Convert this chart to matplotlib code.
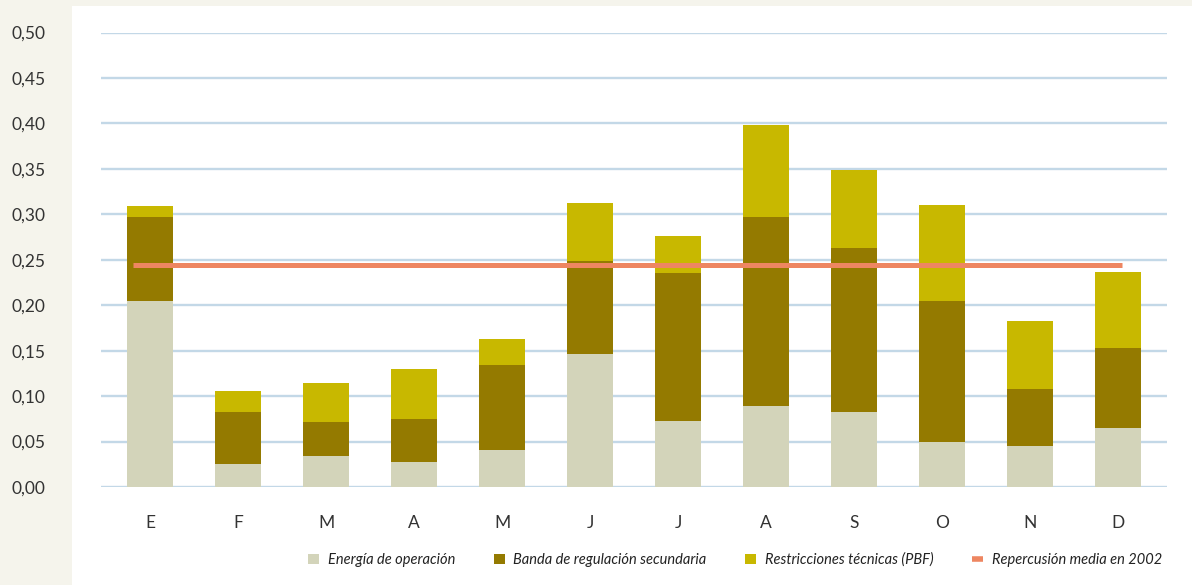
import matplotlib
matplotlib.use("Agg")
import matplotlib.pyplot as plt
from matplotlib.patches import Rectangle
import numpy as np

plt.rcParams['font.family'] = ['Lato', 'DejaVu Sans']

months = ["E", "F", "M", "A", "M", "J", "J", "A", "S", "O", "N", "D"]
energia = [0.205, 0.025, 0.034, 0.028, 0.041, 0.146, 0.073, 0.089, 0.082, 0.050, 0.045, 0.065]
banda = [0.092, 0.057, 0.0375, 0.047, 0.093, 0.103, 0.162, 0.208, 0.181, 0.155, 0.063, 0.088]
restricciones = [0.012, 0.024, 0.043, 0.055, 0.029, 0.063, 0.041, 0.101, 0.086, 0.105, 0.075, 0.084]
media_2002 = 0.244
labels = ["Energía de operación", "Banda de regulación secundaria",
          "Restricciones técnicas (PBF)", "Repercusión media en 2002"]

c_energia = "#d3d4ba"
c_banda = "#947a00"
c_restr = "#c8b800"
c_media = "#ee8661"
c_grid = "#c3d8e7"

fig = plt.figure(figsize=(11.92, 5.85), dpi=100, facecolor="#f5f4ec")
fig.patches.append(Rectangle((72 / 1192, 0), 1, 1 - 6 / 585, transform=fig.transFigure,
                             facecolor="white", edgecolor="none", zorder=-5))

ax = fig.add_axes([101 / 1192, 1 - 487 / 585, (1167 - 101) / 1192, (487 - 32.5) / 585])
ax.set_facecolor("none")

x = np.arange(len(months))
w = 0.52
e = np.array(energia)
b = np.array(banda)
r = np.array(restricciones)
h1 = ax.bar(x, e, w, color=c_energia, zorder=2)
h2 = ax.bar(x, b, w, bottom=e, color=c_banda, zorder=2)
h3 = ax.bar(x, r, w, bottom=e + b, color=c_restr, zorder=2)
h4 = ax.hlines(media_2002, x[0] - 0.19, x[-1] + 0.05, color=c_media, lw=3.6, zorder=3)

ax.set_xlim(-0.557, len(months) - 1 + 0.557)
ax.set_ylim(0, 0.5)
yt = np.arange(0, 0.51, 0.05)
ax.set_yticks(yt)
ax.set_yticklabels([f"{v:.2f}".replace(".", ",") for v in yt])
ax.set_xticks(x)
ax.set_xticklabels(months)
ax.tick_params(axis="y", length=0, pad=40, labelsize=12.5, labelcolor="#333333")
ax.tick_params(axis="x", length=0, pad=20, labelsize=12.5, labelcolor="#333333")
ax.yaxis.grid(True, color=c_grid, lw=1.7, zorder=1)
ax.set_axisbelow(True)
for s in ax.spines.values():
    s.set_visible(False)

leg = fig.legend([h1, h2, h3, h4], labels, loc="center",
                 bbox_to_anchor=(735 / 1192, 1 - 560 / 585), ncol=4,
                 frameon=False, handlelength=0.75, handleheight=0.75, handletextpad=0.6,
                 columnspacing=2.65, prop={"style": "italic", "size": 10.5})
leg.legend_handles[3].set_linewidth(4)
for t in leg.get_texts():
    t.set_color("#222222")

fig.savefig("out.png", dpi=100, facecolor=fig.get_facecolor())
